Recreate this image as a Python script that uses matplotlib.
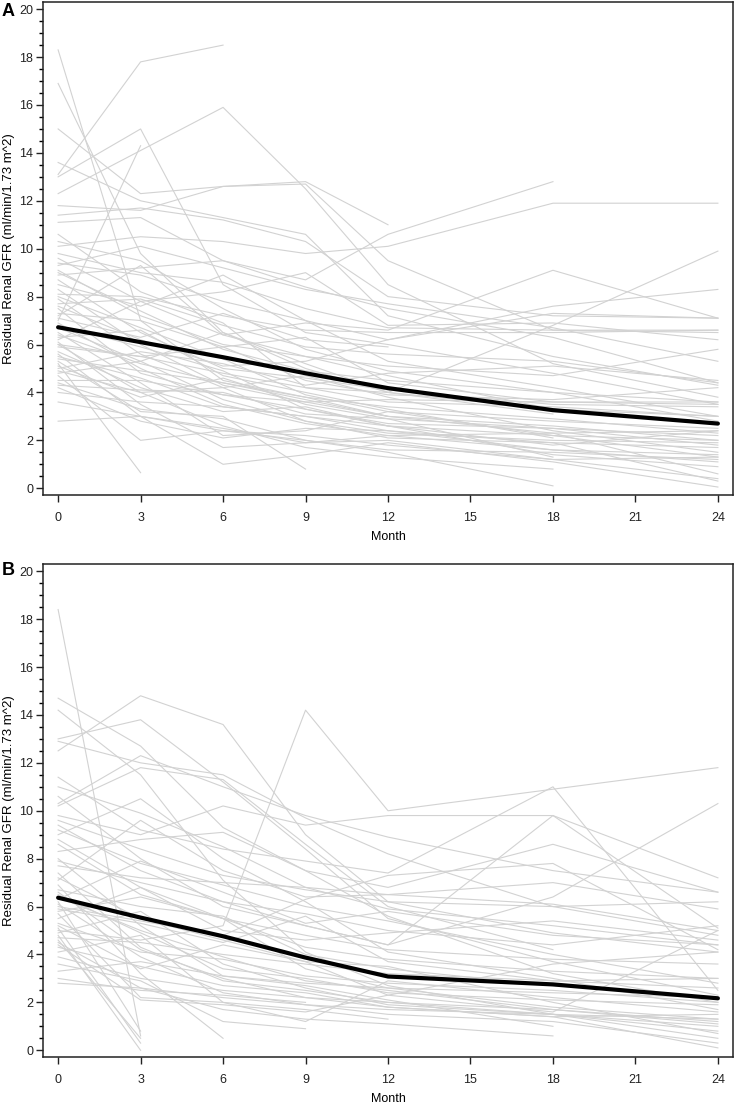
import numpy as np
import matplotlib.pyplot as plt
from matplotlib.ticker import MultipleLocator

plt.rcParams['font.family'] = ['Liberation Sans', 'DejaVu Sans']

n = np.nan
months = [0, 3, 6, 9, 12, 18, 24]

# panel A: individual patients, values at each visit month
gfr_a = [
    [13.1, 17.8, 18.5, n, n, n, n],
    [18.3, 7.0, 4.5, 3.8, 3.0, n, n],
    [16.9, 9.8, 6.5, 5.2, 4.0, 3.1, n],
    [15.0, 12.3, 12.6, 12.7, 9.5, 6.6, 6.5],
    [13.6, 12.0, 11.3, 10.6, 7.2, 5.5, 4.3],
    [13.0, 15.0, 8.5, 6.5, 6.0, 4.8, 3.5],
    [12.3, n, 15.9, 12.5, 8.5, 5.2, 3.8],
    [7.0, 14.3, n, n, n, n, n],
    [11.8, 11.6, 12.6, 12.8, 11.0, n, n],
    [11.4, 11.7, 11.2, 10.3, 8.0, 7.2, 7.1],
    [11.1, 11.3, 9.5, 8.7, 10.6, 12.8, n],
    [10.1, 10.5, 10.3, 9.8, 10.1, 11.9, 11.9],
    [6.0, 5.5, 4.8, 4.2, 4.0, 6.8, 9.9],
    [9.8, 9.0, 8.6, 7.5, 6.7, 6.6, 6.6],
    [9.6, 7.8, 6.4, 6.9, 6.6, 9.1, 7.1],
    [9.4, 8.9, 7.8, 7.0, 6.2, 7.6, 8.3],
    [9.1, 7.2, 6.0, 5.5, 5.1, 4.7, 5.8],
    [8.9, 9.2, 9.5, 8.4, 7.5, 6.3, 4.4],
    [8.7, 6.5, 5.0, 4.6, 4.1, 3.5, 3.4],
    [8.5, 7.6, 8.9, 7.0, 5.3, 4.2, 3.0],
    [8.3, 6.0, 4.3, 3.6, 3.0, 2.6, 2.0],
    [8.1, 8.0, 7.2, 6.6, 6.5, 6.5, 6.6],
    [7.9, 5.6, 4.2, 4.7, 3.8, 2.4, 1.5],
    [7.7, 7.9, 6.8, 5.9, 5.6, 5.3, 4.4],
    [7.5, 4.8, 3.9, 3.3, 2.6, 1.4, 0.9],
    [7.3, 7.0, 5.9, 6.3, 4.4, 3.6, 3.5],
    [7.1, 6.3, 7.3, 6.2, 5.9, n, n],
    [6.9, 5.0, 3.5, 2.7, 2.2, 1.6, 1.1],
    [6.7, 5.3, 6.5, 5.0, 4.0, 3.3, 2.7],
    [6.5, 4.4, 2.2, 2.4, 3.2, 2.2, 1.3],
    [6.3, 6.6, 4.7, 4.0, 3.3, 2.1, n],
    [6.1, 3.5, 1.7, 1.9, 2.0, 1.2, 0.4],
    [5.9, 5.5, 5.9, 4.5, 3.9, 3.7, 4.2],
    [5.7, 4.2, 3.2, 3.4, 2.6, 1.8, 2.4],
    [5.6, 3.0, 1.0, 1.4, 1.9, 1.1, 0.05],
    [5.4, 4.9, 4.4, 3.8, 3.4, 2.9, 2.3],
    [5.2, 0.65, n, n, n, n, n],
    [5.1, 3.8, 4.6, 3.5, 2.9, 1.3, n],
    [5.0, 5.7, 5.2, 4.3, 4.8, 5.1, 4.5],
    [4.9, 4.0, 2.6, 1.7, 1.3, 0.8, n],
    [4.8, 5.3, 3.7, 2.8, 2.3, 2.0, 1.9],
    [4.7, 2.0, 2.4, 2.2, 1.8, 1.2, 1.3],
    [4.5, 4.5, 3.9, 3.6, 3.7, 3.6, 3.6],
    [4.4, 3.3, 2.9, 2.0, 1.5, 0.1, n],
    [4.3, 4.1, 4.0, 3.1, 2.9, 2.5, 2.2],
    [4.2, 2.8, 2.1, 2.5, 2.4, 1.9, 1.7],
    [3.6, 3.0, 2.5, 1.9, 2.2, 2.3, 0.6],
    [2.8, 3.0, 2.4, 2.0, 1.6, 1.5, 1.2],
    [10.6, 8.2, 6.9, 4.2, 3.6, 3.4, 3.0],
    [10.3, 9.5, 7.5, 5.8, 4.9, 4.0, 2.8],
    [9.0, 7.4, 5.8, 4.9, 4.5, 4.0, 3.6],
    [6.2, 7.8, 8.2, 9.0, 6.8, 6.9, 6.2],
    [8.0, 6.7, 5.4, 3.9, 3.2, 2.8, 2.5],
    [7.6, 6.2, 5.1, 5.3, 6.2, 7.3, 7.1],
    [6.8, 5.9, 4.9, 3.3, 2.7, 2.5, 1.8],
    [5.5, 4.6, 3.4, 3.0, 2.4, 1.6, 1.4],
    [5.3, 3.2, 3.0, 0.8, n, n, n],
    [6.0, 4.0, 4.2, 2.8, 2.1, 1.9, 0.3],
    [7.2, 9.3, 6.4, 5.5, 4.7, 3.3, 3.0],
    [4.0, 3.6, 3.4, 3.0, 2.6, 2.2, 2.0],
    [9.3, 10.1, 9.2, 8.3, 7.7, 6.7, 5.3],
    [6.4, 5.2, 4.4, 3.7, 3.0, 2.3, 2.4],
]
mean_a = [6.72, 6.10, 5.47, 4.80, 4.18, 3.26, 2.70]

# panel B
gfr_b = [
    [18.4, 0.6, n, n, n, n, n],
    [14.7, 12.7, 9.3, 7.5, 5.6, 3.2, 2.0],
    [14.2, 11.5, 7.1, 4.1, 2.7, 1.5, 0.5],
    [12.5, 14.8, 13.6, 9.0, 6.2, 4.9, 4.1],
    [13.0, 13.8, 11.2, 8.4, 5.5, 3.7, 2.3],
    [5.0, 4.6, 5.2, 14.2, 10.0, n, 11.8],
    [12.9, 12.0, 11.5, 9.7, 8.2, 6.0, 4.8],
    [11.4, 9.2, 8.4, 7.9, 7.4, 11.0, 2.5],
    [10.3, 12.3, 11.0, 9.8, 8.9, 7.5, 6.6],
    [10.6, 8.0, 6.0, 5.2, 4.4, 6.4, 10.3],
    [9.8, 9.0, 10.2, 9.4, 9.8, 9.8, 7.2],
    [9.4, 7.5, 6.2, 5.7, 5.0, 4.4, 5.2],
    [9.0, 10.5, 8.0, 6.2, 4.1, 3.0, 1.7],
    [8.6, 6.5, 5.5, 3.4, 2.6, 1.8, 1.3],
    [8.3, 8.8, 9.1, 7.5, 6.8, 8.6, 6.6],
    [8.0, 5.2, 3.1, 2.7, 2.1, 1.0, n],
    [7.7, 7.2, 7.0, 6.8, 6.5, 6.1, 5.0],
    [7.4, 4.3, 2.9, 2.5, 2.0, 1.5, 0.8],
    [7.1, 9.6, 7.5, 6.4, 6.5, 7.0, 5.9],
    [6.9, 3.2, 0.5, n, n, n, n],
    [6.7, 6.0, 5.6, 4.0, 3.4, 2.7, 2.2],
    [6.5, 4.9, 3.4, 3.0, 2.4, 2.1, 1.9],
    [6.3, 7.9, 6.6, 5.3, 5.8, 4.8, 4.4],
    [6.1, 3.9, 2.4, 1.9, 1.5, 1.2, 0.3],
    [5.9, 5.3, 4.5, 5.6, 3.7, 2.9, 2.6],
    [5.7, 2.2, 2.0, 1.7, 1.3, n, n],
    [5.5, 6.8, 5.0, 4.6, 4.9, 5.4, 4.6],
    [5.3, 4.1, 3.8, 3.1, 2.8, 2.5, 2.0],
    [5.1, 0.3, n, n, n, n, n],
    [4.9, 5.8, 3.6, 2.6, 1.9, 1.5, 1.0],
    [4.7, 4.5, 4.0, 3.6, 3.2, 2.9, 3.0],
    [4.5, 2.6, 1.7, 1.3, 1.1, 0.6, n],
    [4.3, 3.5, 2.7, 2.4, 1.8, 1.4, 1.5],
    [4.1, 4.8, 2.0, 1.2, 2.9, 2.2, 1.6],
    [3.9, 3.0, 2.5, 2.2, 2.0, 1.7, 1.2],
    [3.6, 2.9, 1.2, 0.9, n, n, n],
    [3.3, 3.7, 3.1, 2.8, 2.6, 2.4, 2.2],
    [2.8, 2.6, 2.2, 1.9, 1.7, 1.5, 1.3],
    [10.2, 11.8, 11.3, 8.6, 6.0, 4.2, n],
    [8.8, 6.8, 5.5, 4.3, 3.8, 3.3, 3.0],
    [7.9, 7.0, 6.2, 5.2, 4.4, 9.8, 5.1],
    [6.0, 5.4, 4.8, 6.3, 7.3, 7.8, 4.2],
    [5.2, 3.4, 4.4, 3.7, 2.3, 1.6, 5.0],
    [4.4, 2.1, 1.9, 1.6, 2.3, 3.6, 4.1],
    [6.6, 4.2, 3.0, 2.2, 1.8, 1.4, 0.1],
    [9.2, 7.8, 6.9, 6.0, 5.4, 4.0, 2.8],
    [11.0, 9.9, 8.5, 6.8, 5.9, 5.2, 4.4],
    [7.2, 5.5, 4.6, 3.7, 3.5, 2.0, 0.7],
    [4.8, 0.0, n, n, n, n, n],
    [6.2, 0.8, n, n, n, n, n],
    [4.6, 0.5, n, n, n, n, n],
    [6.4, 5.0, 3.9, 2.9, 2.5, 1.7, 1.1],
    [3.0, 2.5, 2.3, 2.0, n, n, n],
    [9.6, 8.4, 7.3, 6.7, 6.2, 6.0, 6.2],
    [5.8, 6.4, 5.5, 4.8, 4.2, 3.8, 3.6],
]
mean_b = [6.37, 5.54, 4.76, 3.87, 3.08, 2.75, 2.17]

x_ticks = [0, 3, 6, 9, 12, 15, 18, 21, 24]
y_ticks = [0, 2, 4, 6, 8, 10, 12, 14, 16, 18, 20]

fig = plt.figure(figsize=(7.35, 11.09), dpi=100)
ax_a = fig.add_axes([0.0585, 0.5537, 0.9388, 0.4445])
ax_b = fig.add_axes([0.0585, 0.0469, 0.9388, 0.4445])

t = np.array(months)
for ax, lines, mean in [(ax_a, gfr_a, mean_a), (ax_b, gfr_b, mean_b)]:
    for row in lines:
        y = np.array(row, dtype=float)
        ok = ~np.isnan(y)
        ax.plot(t[ok], y[ok], color='#d2d2d2', lw=0.8, zorder=2)
    ax.plot(t, mean, color='black', lw=3.0, zorder=5, solid_capstyle='round')

    ax.set_xlim(-0.55, 24.55)
    ax.set_ylim(-0.28, 20.3)
    ax.set_xticks(x_ticks)
    ax.set_yticks(y_ticks)
    ax.yaxis.set_minor_locator(MultipleLocator(0.5))
    ax.tick_params(axis='both', which='major', direction='out', length=5, width=1,
                   labelsize=9, colors='#222222')
    ax.tick_params(axis='x', pad=7)
    ax.tick_params(axis='y', pad=2)
    ax.tick_params(axis='y', which='minor', direction='out', length=3, width=1)
    for s in ax.spines.values():
        s.set_linewidth(1.1)
        s.set_color('#222222')
    ax.set_xlabel('Month', fontsize=9, labelpad=5)
    ax.set_ylabel('Residual Renal GFR (ml/min/1.73 m^2)', fontsize=9.5, labelpad=3)

fig.text(0.0115, 0.990, 'A', fontsize=13, fontweight='bold', ha='center', va='center')
fig.text(0.0115, 0.486, 'B', fontsize=13, fontweight='bold', ha='center', va='center')

fig.savefig('out.png', dpi=100)
